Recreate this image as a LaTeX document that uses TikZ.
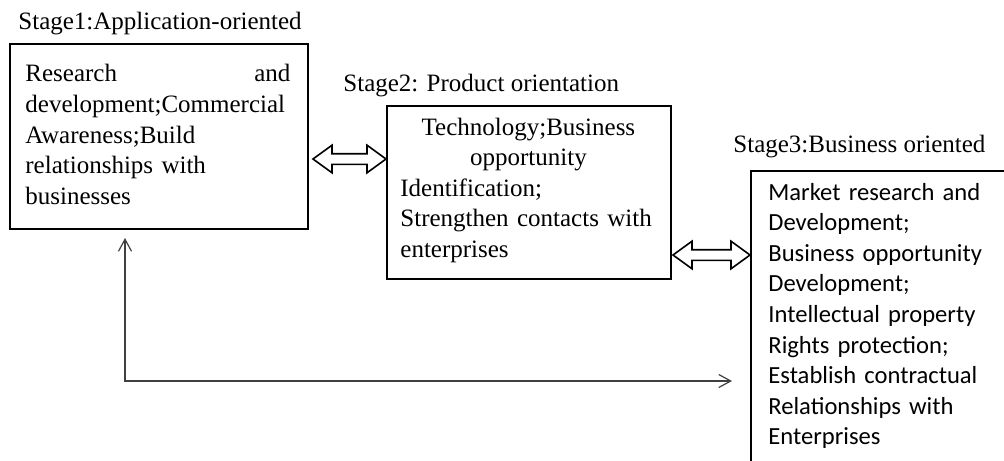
\documentclass[tikz,border=0pt]{standalone}
\usepackage{fontspec}
\setmainfont{Liberation Serif}
\newfontfamily\calibri{Carlito}
\usetikzlibrary{shapes.arrows,arrows.meta}

\begin{document}
\begin{tikzpicture}[x=0.5pt,y=-0.5pt,
	every node/.style={font=\fontsize{12.5}{15.3}\selectfont, inner sep=0pt},
	stagebox/.style={draw, line width=0.8pt, anchor=north west},
	stagetext/.style={anchor=base west, align=left},
	dblarrow/.style={double arrow, draw, line width=0.8pt, inner sep=2.25pt,
		double arrow head extend=4.25pt, double arrow tip angle=72}]
\useasboundingbox (0,0) rectangle (1004,460);
\clip (0,0) rectangle (1004,460);

% titles
\node[anchor=base west] (s1title) at (18,30) {Stage1:Application-oriented};
\node[anchor=base west] (s2title) at (343,91) {Stage2: Product orientation};
\node[anchor=base west] (s3title) at (733,152) {Stage3:Business oriented};

% boxes
\node[stagebox, minimum width=149pt, minimum height=92.5pt] (s1box) at (9,43) {};
\node[stagebox, minimum width=142pt, minimum height=86.5pt] (s2box) at (386,105) {};
\node[stagebox, minimum width=150pt, minimum height=160pt] (s3box) at (750,170) {};

\node[stagetext, text width=132.5pt] (s1text) at (25,82)
	{Research\hfill and\\ development;Commercial\\ Awareness;Build\\
	relationships with\\ businesses};
\node[stagetext, text width=128pt] (s2text) at (400,135)
	{\makebox[\linewidth]{Technology;Business}\\ \makebox[\linewidth]{opportunity}\\
	Identification;\\ Strengthen contacts with\\ enterprises};
\node[stagetext, text width=115pt, font=\calibri\fontsize{12.3}{15.3}\selectfont] (s3text) at (768,200)
	{Market research and\\ Development;\\ Business opportunity\\ Development;\\
	Intellectual property\\ Rights protection;\\ Establish contractual\\
	Relationships with\\ Enterprises};

% arrows between stages
\node[dblarrow, minimum height=36.5pt] (a12) at (349.5,159) {};
\node[dblarrow, minimum height=38.5pt] (a23) at (711.5,255) {};

\coordinate (fbtop) at (125,238);
\coordinate (fbend) at (732,381);
\draw[black!75, line width=0.6pt,
	{Straight Barb[length=6pt,width=6.5pt]}-{Straight Barb[length=6pt,width=6.5pt]}]
	(fbtop) |- (fbend);

\end{tikzpicture}
\end{document}
